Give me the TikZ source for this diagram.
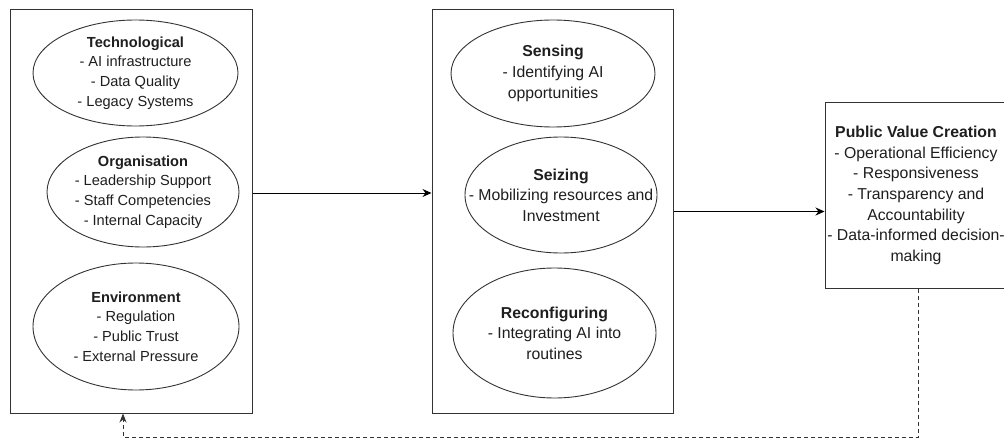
\documentclass[tikz,border=0pt]{standalone}
\usepackage{fontspec}
\setmainfont{Liberation Sans}
\usetikzlibrary{shapes.geometric,arrows.meta}
\definecolor{linegray}{HTML}{333333}
\definecolor{txt}{HTML}{1E1E1E}
\begin{document}
\begin{tikzpicture}[x=1pt,y=-1pt,
  every node/.style={font=\fontsize{14.6}{19.8}\selectfont, text=txt, align=center},
  big/.style={font=\fontsize{15.8}{20.6}\selectfont},
  frame/.style={draw=linegray, line width=1pt, rectangle, inner sep=0pt},
  oval/.style={draw=linegray, line width=0.9pt, ellipse, inner xsep=-60pt, inner ysep=-40pt},
  flow/.style={draw=black, line width=1pt, -{Stealth[length=9pt,width=8pt]}},
  feedback/.style={draw=linegray, line width=0.8pt, dash pattern=on 4pt off 3pt, -{Stealth[length=9pt,width=7pt]}}]
\useasboundingbox (0,0) rectangle (1004,441);
% boxes
\node[frame, minimum width=242pt, minimum height=403pt] (L) at (131,211.5) {};
\node[frame, minimum width=241pt, minimum height=403pt] (M) at (552.5,211.5) {};
\node[frame, big, minimum width=182pt, minimum height=185pt] (R) at (916,195.5)
  {\textbf{Public Value Creation}\\- Operational Efficiency\\- Responsiveness\\- Transparency and\\Accountability\\- Data-informed decision-\\making};
% left ellipses
\node[oval, minimum width=205pt, minimum height=106pt] (tech) at (135.5,73)
  {\textbf{Technological}\\- AI infrastructure\\- Data Quality\\- Legacy Systems};
\node[oval, minimum width=192pt, minimum height=110pt] (org) at (143,192)
  {\textbf{Organisation}\\- Leadership Support\\- Staff Competencies\\- Internal Capacity};
\node[oval, minimum width=206pt, minimum height=127pt] (env) at (136,326.5)
  {\textbf{Environment}\\- Regulation\\- Public Trust\\- External Pressure};
% middle ellipses
\node[oval, big, minimum width=204pt, minimum height=107pt] (sens) at (553,73.5)
  {\textbf{Sensing}\\- Identifying AI\\opportunities};
\node[oval, big, minimum width=192pt, minimum height=116pt] (seiz) at (561,195)
  {\textbf{Seizing}\\- Mobilizing resources and\\Investment};
\node[oval, big, minimum width=203pt, minimum height=130pt] (reco) at (554.5,333)
  {\textbf{Reconfiguring}\\- Integrating AI into\\routines};
% connectors
\draw[flow] ([yshift=18.5pt]L.east) -- ([yshift=18.5pt]M.west);
\draw[flow] (M.east) -- (M.east -| R.west);
\coordinate (fb) at (918,437);
\draw[feedback] (R.south -| fb) -- (fb) -| ([xshift=-8pt]L.south);
\end{tikzpicture}
\end{document}
